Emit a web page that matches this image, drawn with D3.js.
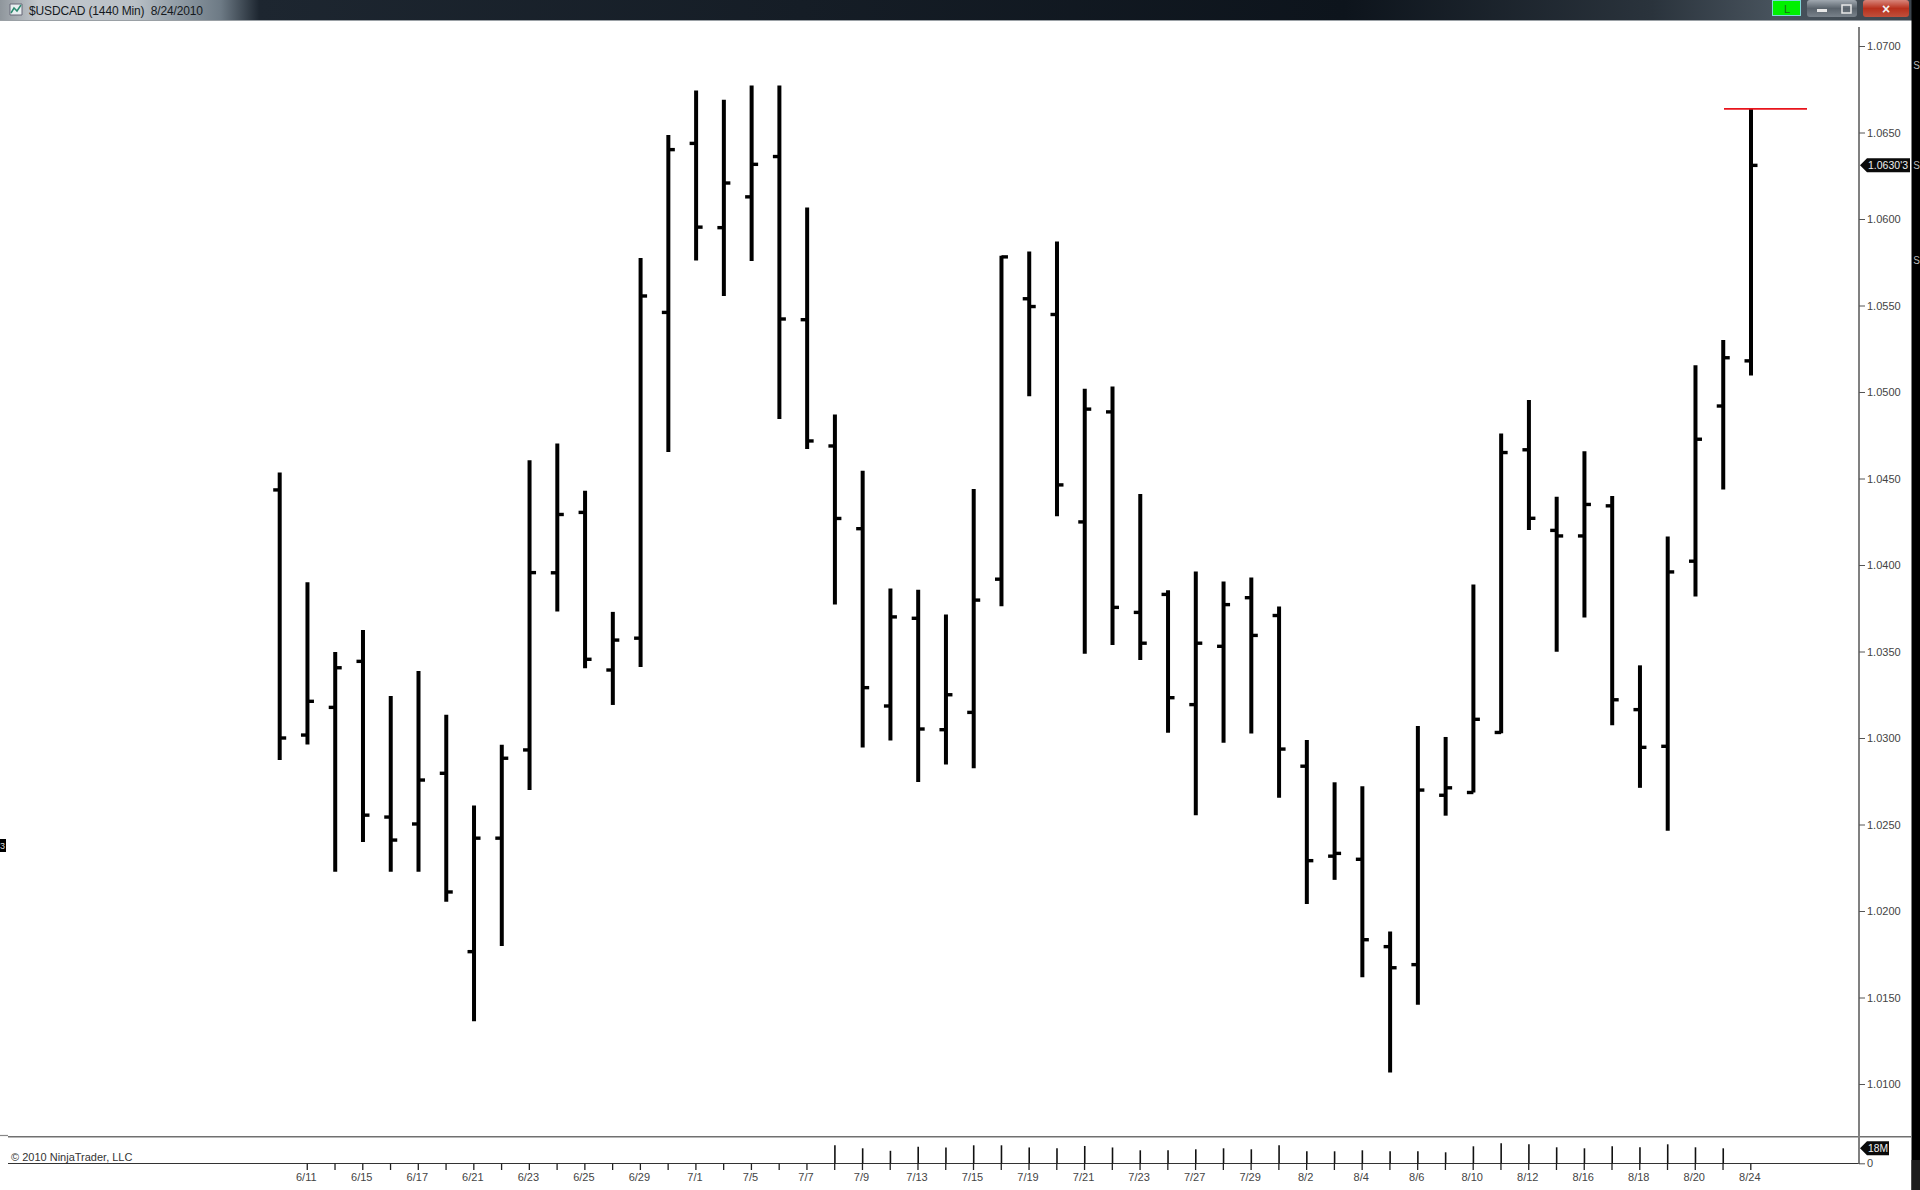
<!DOCTYPE html>
<html><head><meta charset="utf-8">
<script src="https://cdn.jsdelivr.net/npm/d3@7/dist/d3.min.js"></script>
<style>html,body{margin:0;padding:0;background:#fff;overflow:hidden}svg{display:block}text{font-family:"Liberation Sans",Arial,sans-serif}</style>
</head><body><svg id="c" width="1920" height="1190"></svg>
<script>
const dates=["6/10","6/11","6/14","6/15","6/16","6/17","6/18","6/21","6/22","6/23","6/24","6/25","6/28","6/29","6/30","7/1","7/2","7/5","7/6","7/7","7/8","7/9","7/12","7/13","7/14","7/15","7/16","7/19","7/20","7/21","7/22","7/23","7/26","7/27","7/28","7/29","7/30","8/2","8/3","8/4","8/5","8/6","8/9","8/10","8/11","8/12","8/13","8/16","8/17","8/18","8/19","8/20","8/23","8/24"];
const dateLabels=["6/11","6/15","6/17","6/21","6/23","6/25","6/29","7/1","7/5","7/7","7/9","7/13","7/15","7/19","7/21","7/23","7/27","7/29","8/2","8/4","8/6","8/10","8/12","8/16","8/18","8/20","8/24"];
const priceTicks=[1.07,1.065,1.06,1.055,1.05,1.045,1.04,1.035,1.03,1.025,1.02,1.015,1.01];
const highs=[1.04534,1.0390,1.03497,1.03624,1.03243,1.03388,1.03135,1.0261,1.02961,1.04605,1.04703,1.04429,1.03729,1.05774,1.06486,1.06743,1.06689,1.06772,1.06772,1.06066,1.0487,1.04545,1.03864,1.03857,1.03714,1.04439,1.05787,1.05812,1.0587,1.05019,1.05032,1.04411,1.03854,1.03962,1.03904,1.03928,1.0376,1.02989,1.02744,1.02721,1.01882,1.0307,1.03006,1.03888,1.0476,1.04954,1.04394,1.04658,1.04399,1.0342,1.04165,1.05155,1.05301,1.06636];
const lows=[1.02873,1.02963,1.02227,1.02399,1.02227,1.02227,1.02054,1.01363,1.01797,1.027,1.03731,1.03403,1.03191,1.0341,1.04653,1.0576,1.05555,1.05757,1.04844,1.0467,1.03772,1.02945,1.02985,1.02746,1.02847,1.02825,1.03762,1.04976,1.04282,1.03487,1.03538,1.03451,1.03031,1.02553,1.02973,1.03026,1.02654,1.02041,1.0218,1.01617,1.01067,1.01458,1.02551,1.02685,1.03027,1.04203,1.03498,1.03697,1.03073,1.02712,1.02464,1.03818,1.04437,1.05096];
const opens=[1.04434,1.03017,1.03177,1.03443,1.02543,1.02503,1.02796,1.01765,1.02421,1.02931,1.03955,1.04304,1.03393,1.03577,1.0546,1.06437,1.0595,1.06128,1.06361,1.05418,1.04688,1.0421,1.03185,1.03692,1.03048,1.03148,1.03918,1.05539,1.05448,1.04249,1.04885,1.03726,1.0383,1.03193,1.0353,1.03811,1.03708,1.02837,1.02317,1.02299,1.01794,1.0169,1.02669,1.02685,1.03032,1.04666,1.042,1.04168,1.04342,1.03164,1.02952,1.04022,1.04919,1.0518];
const closes=[1.03,1.03212,1.03406,1.02554,1.0241,1.02757,1.0211,1.02421,1.02883,1.03956,1.04292,1.03455,1.03566,1.05555,1.06401,1.05953,1.06208,1.06316,1.05422,1.04717,1.04269,1.03291,1.037,1.03052,1.0325,1.03797,1.05781,1.05494,1.04463,1.04901,1.03755,1.03548,1.03233,1.03548,1.03771,1.03593,1.02936,1.02291,1.02333,1.01834,1.01672,1.02699,1.02712,1.03108,1.0465,1.0427,1.04168,1.0435,1.03221,1.02946,1.0396,1.04727,1.05198,1.0631];
const volumeStart=20;
const volumes=[21.6,18,15,20,19,21.6,21.6,19,18,20.8,19,15.6,15.6,16.8,18,16.8,21.6,14.4,14.4,15.6,14.4,14.4,13.2,20.4,24,22.8,19.2,18,20.4,19.2,22.8,19.2,18];
const lastPriceLabel="1.0630'3", lastVolumeLabel="18M", lastVolume=18, lastHigh=1.06636;
const titleText="$USDCAD (1440 Min)  8/24/2010", copyrightText="© 2010 NinjaTrader, LLC";

const svg=d3.select("#c");
const defs=svg.append("defs");
const g=defs.append("linearGradient").attr("id","tb");
[[0,"#8f969c"],[0.02,"#c4c9ce"],[0.07,"#b9c0c6"],[0.09,"#95a0a9"],[0.115,"#6d7a85"],[0.135,"#1d2630"],[0.7,"#0d141c"],[0.86,"#2a333c"],[0.925,"#48535d"],[1,"#3c444c"]].forEach(s=>g.append("stop").attr("offset",s[0]).attr("stop-color",s[1]));
const rg=defs.append("linearGradient").attr("id","cl").attr("x2",0).attr("y2",1);
rg.append("stop").attr("offset",0).attr("stop-color","#d8857a");rg.append("stop").attr("offset",.5).attr("stop-color","#b8301c");rg.append("stop").attr("offset",1).attr("stop-color","#c0503c");
const bg=defs.append("linearGradient").attr("id","bt").attr("x2",0).attr("y2",1);
bg.append("stop").attr("offset",0).attr("stop-color","#a0a8b0");bg.append("stop").attr("offset",.5).attr("stop-color","#5a636c");bg.append("stop").attr("offset",1).attr("stop-color","#78818a");

const x=d3.scalePoint().domain(dates).range([279.7,1751]);
const y=d3.scaleLinear().domain([1.01,1.07]).range([1084,46]);
const v=d3.scaleLinear().domain([0,lastVolume]).range([1163.3,1148.3]);
const idx=d3.range(dates.length);

// window chrome
svg.append("rect").attr("width",1920).attr("height",20).attr("fill","url(#tb)");
svg.append("rect").attr("y",20).attr("width",1920).attr("height",1).attr("fill","#9aa0a5");
svg.append("rect").attr("x",1911.5).attr("width",8.5).attr("height",1190).attr("fill","#000");
svg.append("rect").attr("x",1911.5).attr("y",1160).attr("width",8.5).attr("height",30).attr("fill","#1c1c1c");
[65,165,260].forEach(t=>svg.append("text").attr("x",1913.2).attr("y",t+4).attr("font-size",10).attr("fill","#bbb").text("S"));
svg.append("path").attr("d","M10 4h12v11H10z").attr("fill","#e8eef0").attr("stroke","#667").attr("stroke-width",1);
svg.append("path").attr("d","M11 13l3-5 3 3 4-6").attr("fill","none").attr("stroke","#2c8a70").attr("stroke-width",1.5);
svg.append("text").attr("x",29).attr("y",15).attr("font-size",12).attr("fill","#15191d").attr("xml:space","preserve").attr("textLength",174).text(titleText);
svg.append("rect").attr("x",1772.5).attr("y",0.5).attr("width",28).attr("height",15).attr("fill","#00f000").attr("stroke","#7fd8d8");
svg.append("text").attr("x",1787).attr("y",12.5).attr("font-size",11).attr("text-anchor","middle").attr("fill","#1a6a1a").text("L");
svg.append("rect").attr("x",1807).attr("y",0).attr("width",50).attr("height",17).attr("rx",3).attr("fill","url(#bt)");
svg.append("rect").attr("x",1863).attr("y",0).attr("width",46).attr("height",17).attr("rx",3).attr("fill","url(#cl)");
svg.append("rect").attr("x",1817).attr("y",9).attr("width",10).attr("height",3).attr("fill","#e8e8e8");
svg.append("rect").attr("x",1842).attr("y",5).attr("width",9).attr("height",8).attr("fill","none").attr("stroke","#e8e8e8").attr("stroke-width",1.5);
svg.append("text").attr("x",1886).attr("y",13.5).attr("font-size",14).attr("font-weight","bold").attr("text-anchor","middle").attr("fill","#f2f2f2").text("×");

// panel lines
svg.append("line").attr("x1",8).attr("x2",1911).attr("y1",1136.7).attr("y2",1136.7).attr("stroke","#707070").attr("stroke-width",1.6);
svg.append("line").attr("x1",0).attr("x2",8).attr("y1",1135.5).attr("y2",1135.5).attr("stroke","#888").attr("stroke-width",1.2);
svg.append("line").attr("x1",8).attr("x2",1860).attr("y1",1163.5).attr("y2",1163.5).attr("stroke","#333").attr("stroke-width",1.2);
svg.append("line").attr("x1",1859).attr("x2",1859).attr("y1",27).attr("y2",1163.5).attr("stroke","#808080").attr("stroke-width",2);

// price axis
const ya=svg.append("g").attr("transform","translate(1859,0)").call(d3.axisRight(y).tickValues(priceTicks).tickFormat(d3.format(".4f")).tickSize(6).tickPadding(2));
ya.select(".domain").remove();
ya.selectAll("line").attr("stroke","#555");
ya.selectAll("text").attr("font-size",11).attr("fill","#444").attr("font-family",'"Liberation Sans",Arial,sans-serif');

// volume axis
const va=svg.append("g").attr("transform","translate(1859,0)").call(d3.axisRight(v).tickValues([0]).tickFormat(d3.format("d")).tickSize(6).tickPadding(2));
va.select(".domain").remove();
va.selectAll("line").attr("stroke","#555");
va.selectAll("text").attr("font-size",11).attr("fill","#444").attr("font-family",'"Liberation Sans",Arial,sans-serif');

// date axis
const xa=svg.append("g").attr("transform","translate(-0.7,1163.5)").call(d3.axisBottom(x).tickValues(dates.slice(1)).tickFormat(d=>dateLabels.includes(d)?d:"").tickSize(6.5).tickPadding(3));
xa.select(".domain").remove();
xa.selectAll("line").attr("stroke","#222").attr("stroke-width",1.3);
xa.selectAll("text").attr("font-size",11).attr("fill","#444").attr("dx",-1).attr("font-family",'"Liberation Sans",Arial,sans-serif');

// volume bars
svg.append("g").selectAll("line").data(volumes).join("line")
 .attr("x1",(d,i)=>x(dates[i+volumeStart])).attr("x2",(d,i)=>x(dates[i+volumeStart]))
 .attr("y1",d=>v(d)).attr("y2",v(0)).attr("stroke","#111").attr("stroke-width",1.6);

// OHLC bars
const bars=svg.append("g").attr("stroke","#000");
bars.selectAll(".hl").data(idx).join("line").attr("class","hl")
 .attr("x1",i=>x(dates[i])).attr("x2",i=>x(dates[i])).attr("y1",i=>y(highs[i])).attr("y2",i=>y(lows[i])).attr("stroke-width",4);
bars.selectAll(".op").data(idx).join("line").attr("class","op")
 .attr("x1",i=>x(dates[i])-6.5).attr("x2",i=>x(dates[i])).attr("y1",i=>y(opens[i])).attr("y2",i=>y(opens[i])).attr("stroke-width",3.4);
bars.selectAll(".cl").data(idx).join("line").attr("class","cl")
 .attr("x1",i=>x(dates[i])).attr("x2",i=>x(dates[i])+6.5).attr("y1",i=>y(closes[i])).attr("y2",i=>y(closes[i])).attr("stroke-width",3.4);

// high line
svg.append("line").attr("x1",1724).attr("x2",1807).attr("y1",y(lastHigh)).attr("y2",y(lastHigh)).attr("stroke","#e8141c").attr("stroke-width",1.8);

// tags
function tag(cy,w,label,fs,tw){
 const g=svg.append("g").attr("transform",`translate(1860,${cy})`);
 g.append("path").attr("d",`M0 0L7 -7H${w}V7H7Z`).attr("fill","#0a0a0a");
 g.append("text").attr("x",8).attr("y",4).attr("font-size",fs).attr("fill","#eee").attr("textLength",tw).attr("lengthAdjust","spacingAndGlyphs").text(label);
}
tag(y(closes[closes.length-1]),50,lastPriceLabel,11,40);
tag(v(lastVolume),29,lastVolumeLabel,11,20);

// left marker
svg.append("rect").attr("x",0).attr("y",839).attr("width",6).attr("height",13).attr("fill","#000");
svg.append("text").attr("x",0).attr("y",849).attr("font-size",9).attr("fill","#ddd").text("3");

svg.append("text").attr("x",11).attr("y",1161).attr("font-size",11).attr("fill","#333").text(copyrightText);
</script></body></html>
